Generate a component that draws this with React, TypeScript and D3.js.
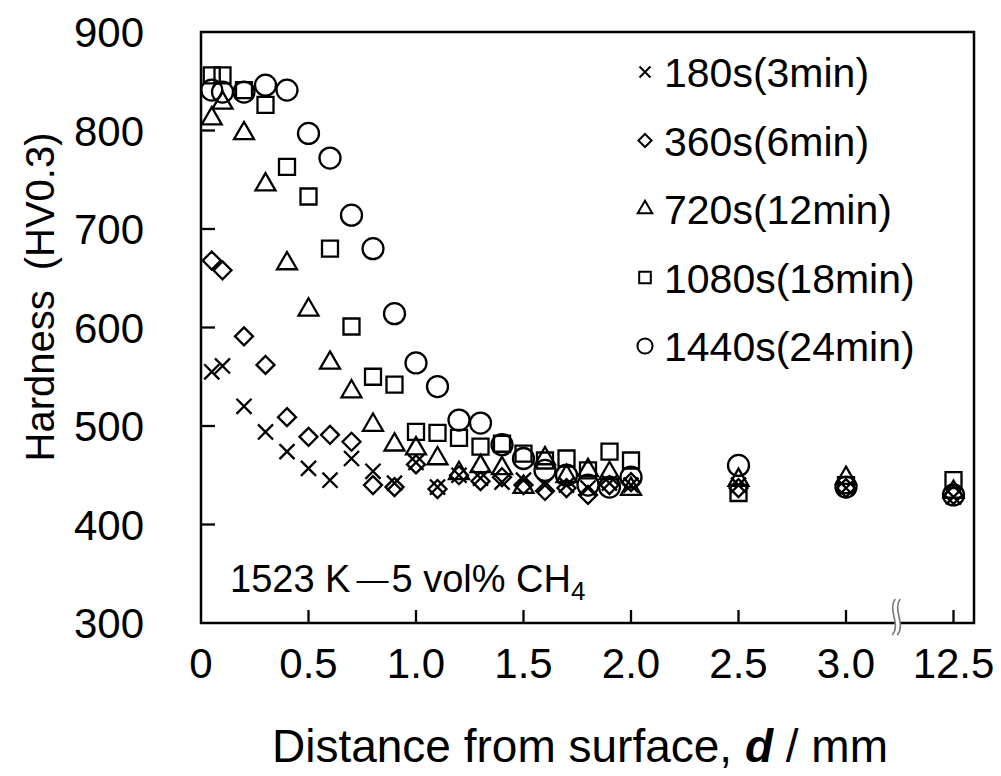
import React from "react";
import * as d3 from "d3";

// depth from surface (mm); 12.5 sits after the axis break
const depths = [0.05, 0.1, 0.2, 0.3, 0.4, 0.5, 0.6, 0.7, 0.8, 0.9, 1.0, 1.1, 1.2, 1.3, 1.4, 1.5, 1.6, 1.7, 1.8, 1.9, 2.0, 2.5, 3.0, 12.5];

const hv180s = [555, 561, 520, 494, 474, 457, 445, 467, 454, 442, 463, 438, 450, 447, 443, 445, 440, 440, 437, 442, 440, 440, 437, 428];
const hv360s = [668, 658, 591, 562, 509, 489, 491, 484, 440, 438, 461, 436, 450, 444, 448, 440, 434, 437, 430, 440, 443, 437, 437, 430];
const hv720s = [812, 828, 797, 745, 665, 618, 564, 535, 501, 481, 477, 467, 452, 459, 457, 438, 467, 449, 455, 452, 436, 445, 447, 433];
const hv1080s = [856, 856, 841, 826, 763, 733, 680, 601, 550, 542, 494, 493, 488, 479, 482, 472, 465, 467, 455, 474, 465, 432, 440, 445];
const hv1440s = [841, 839, 839, 846, 841, 797, 772, 714, 680, 614, 564, 540, 506, 503, 481, 467, 455, 450, 440, 438, 448, 460, 438, 430];

const seriesLabels = ["180s(3min)", "360s(6min)", "720s(12min)", "1080s(18min)", "1440s(24min)"];
const seriesValues = [hv180s, hv360s, hv720s, hv1080s, hv1440s];

const yTicks = [300, 400, 500, 600, 700, 800, 900];
const xTicks = [0, 0.5, 1.0, 1.5, 2.0, 2.5, 3.0, 12.5];
const xTickLabels = ["0", "0.5", "1.0", "1.5", "2.0", "2.5", "3.0", "12.5"];

const W = 1001;
const H = 776;
const left = 201;
const right = 974;
const top = 32;
const bottom = 623;
const step = 107.5; // px per 0.5 mm

const FONT = "'Liberation Sans', Arial, Helvetica, sans-serif";

const symbolTypes = [d3.symbolTimes, d3.symbolDiamond2, d3.symbolTriangle2, d3.symbolSquare, d3.symbolCircle];
const symbolSizes = [150, 206, 285, 256, 346];
const legendSizes = [80, 110, 150, 135, 180];

export default function App() {
  const x = d3
    .scaleLinear()
    .domain([0, 3.0, 12.5])
    .range([left, left + 6 * step, left + 7 * step]);
  const y = d3.scaleLinear().domain([300, 900]).range([bottom, top]);

  const breakX = left + 6.43 * step;
  const wave1 = `M${breakX + 3},${bottom - 24} C${breakX - 5},${bottom - 14} ${breakX + 9},${bottom + 2} ${breakX},${bottom + 12}`;
  const wave2 = `M${breakX + 8},${bottom - 24} C${breakX},${bottom - 14} ${breakX + 14},${bottom + 2} ${breakX + 5},${bottom + 12}`;

  return (
    <svg
      width={W}
      height={H}
      style={{ position: "absolute", left: 0, top: 0, background: "#fff" }}
      fontFamily={FONT}
    >
      <rect width={W} height={H} fill="#fff" />

      {/* points */}
      {seriesValues.map((vals, si) => {
        const path = d3.symbol(symbolTypes[si], symbolSizes[si])() as string;
        return (
          <g key={si} fill="none" stroke="#000" strokeWidth={2.3}>
            {vals.map((v, i) => (
              <path key={i} d={path} transform={`translate(${x(depths[i])},${y(v)})`} />
            ))}
          </g>
        );
      })}

      {/* frame */}
      <rect
        x={left}
        y={top}
        width={right - left}
        height={bottom - top}
        fill="none"
        stroke="#000"
        strokeWidth={2.5}
      />

      {/* y ticks */}
      {yTicks.map((t) => (
        <g key={t}>
          {t > 300 && t < 900 && (
            <line x1={left} x2={left + 14} y1={y(t)} y2={y(t)} stroke="#000" strokeWidth={2.3} />
          )}
          <text x={144} y={y(t) + 15} textAnchor="end" fontSize={42} fill="#000">
            {t}
          </text>
        </g>
      ))}

      {/* x ticks */}
      {xTicks.map((t, i) => (
        <g key={t}>
          {t > 0 && (
            <line x1={x(t)} x2={x(t)} y1={bottom} y2={bottom - 13} stroke="#000" strokeWidth={2.3} />
          )}
          <text x={x(t)} y={678} textAnchor="middle" fontSize={42} fill="#000">
            {xTickLabels[i]}
          </text>
        </g>
      ))}

      {/* axis break */}
      <path d={`${wave1} L${breakX + 5},${bottom + 12} C${breakX + 14},${bottom + 2} ${breakX},${bottom - 14} ${breakX + 8},${bottom - 24} Z`} fill="#fff" />
      <path d={wave1} fill="none" stroke="#777" strokeWidth={1.6} />
      <path d={wave2} fill="none" stroke="#777" strokeWidth={1.6} />

      {/* legend */}
      {seriesLabels.map((lab, i) => {
        const cy = 72 + i * 68.5;
        const path = d3.symbol(symbolTypes[i], legendSizes[i])() as string;
        return (
          <g key={lab}>
            <path d={path} transform={`translate(645,${cy})`} fill="none" stroke="#000" strokeWidth={2} />
            <text x={664} y={cy + 15} fontSize={41} fill="#000">
              {lab}
            </text>
          </g>
        );
      })}

      {/* condition note */}
      <text x={230} y={592} fontSize={38} fill="#000">
        1523 K
        <tspan dx={6} fontSize={32} dy={-2}>—</tspan>
        <tspan dx={3} dy={2}>5 vol% CH</tspan>
        <tspan fontSize={26} dy={8}>4</tspan>
      </text>

      {/* axis titles */}
      <text x={580} y={762} textAnchor="middle" fontSize={46} fill="#000">
        Distance from surface,{" "}
        <tspan fontWeight="bold" fontStyle="italic">d</tspan> / mm
      </text>
      <text
        transform={`translate(54,${297}) rotate(-90)`}
        textAnchor="middle"
        fontSize={40}
        fill="#000"
      >
        Hardness{"\u2002"}(HV0.3)
      </text>
    </svg>
  );
}
